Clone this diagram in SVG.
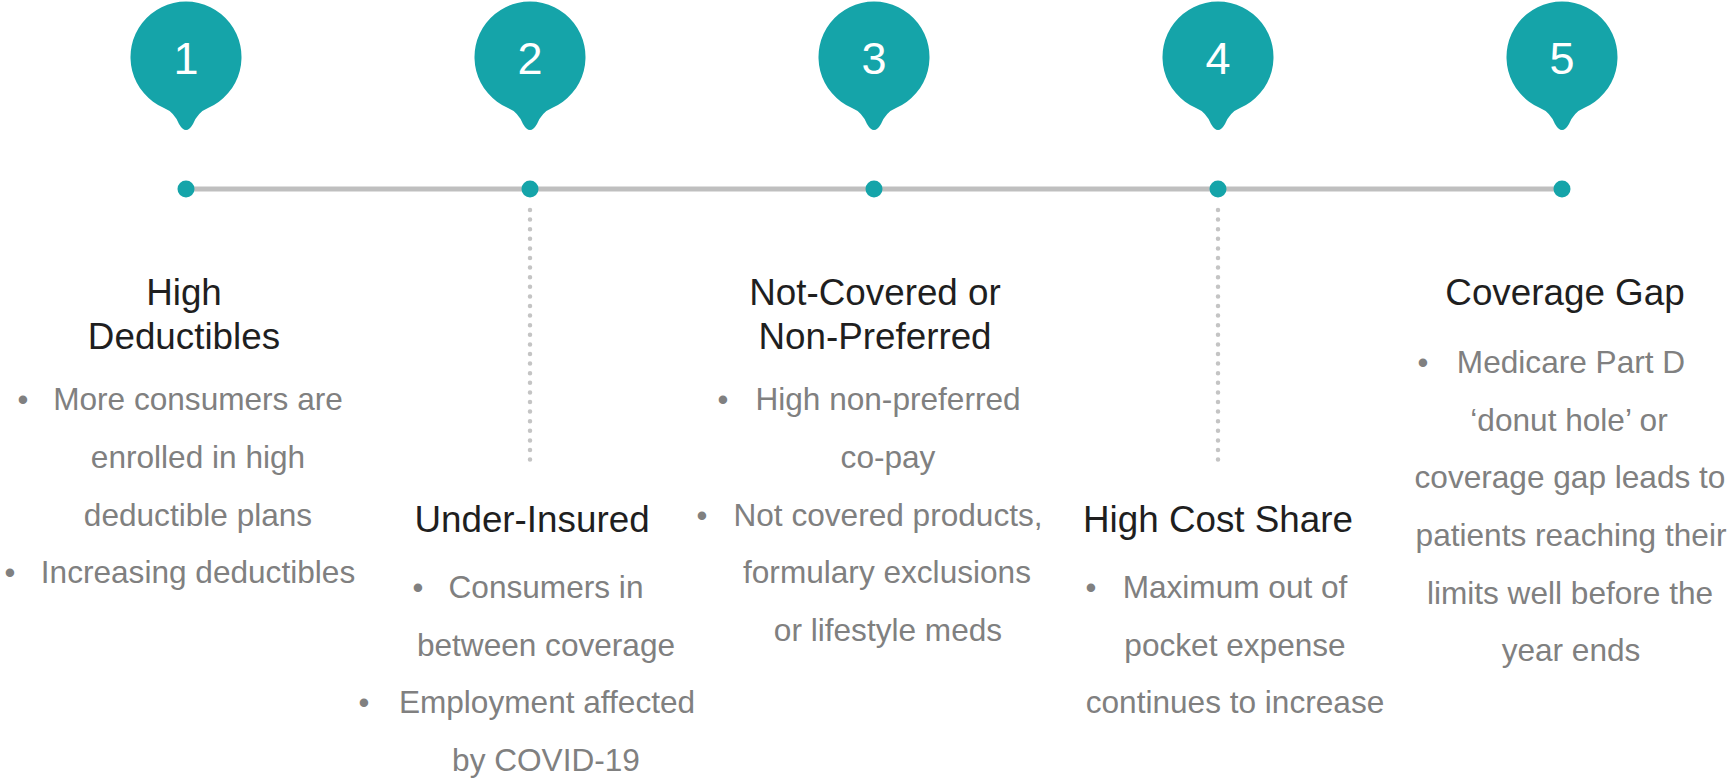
<svg xmlns="http://www.w3.org/2000/svg" width="1731" height="779" viewBox="0 0 1731 779">
<style>
.pin{fill:#15A4A9}
.num{font-family:"Liberation Sans",Arial,sans-serif;font-size:45px;fill:#FFFFFF;text-anchor:middle}
.dot{fill:#15A4A9}
.title{font-family:"Liberation Sans",Arial,sans-serif;font-size:36.8px;fill:#1F1F1F;text-anchor:middle}
.body{font-family:"Liberation Sans",Arial,sans-serif;font-size:31.6px;fill:#808080;text-anchor:middle}
.bul{font-family:"Liberation Sans",Arial,sans-serif;font-size:31px;fill:#808080;text-anchor:middle}
.axis{stroke:#BFBFBF;stroke-width:5;fill:none}
.dotted{stroke:#C4C4C4;stroke-width:4.5;stroke-linecap:round;stroke-dasharray:0 9.6;fill:none}
</style>
<defs>
<path id="pinshape" d="M -22,108 Q -12,112 -7,124 Q 0,136 7,124 Q 12,112 22,108 A 55.5 55.5 0 1 0 -22,108 Z"/>
</defs>
<g id="connectors">
<line class="axis" x1="186" y1="189" x2="1562" y2="189"/>
<line class="dotted" x1="530" y1="210" x2="530" y2="463"/>
<line class="dotted" x1="1218" y1="210" x2="1218" y2="463"/>
</g>
<g id="node1">
<use href="#pinshape" class="pin" transform="translate(186,0)"/>
<text class="num" x="186" y="74">1</text>
<circle class="dot" cx="186" cy="189" r="8.5"/>
<text class="title" x="184" y="305">High</text>
<text class="title" x="184" y="349">Deductibles</text>
<text class="bul" x="23" y="410">•</text>
<text class="body" x="198" y="410">More consumers are</text>
<text class="body" x="198" y="468">enrolled in high</text>
<text class="body" x="198" y="526">deductible plans</text>
<text class="bul" x="10" y="583">•</text>
<text class="body" x="198" y="583">Increasing deductibles</text>
</g>
<g id="node2">
<use href="#pinshape" class="pin" transform="translate(530,0)"/>
<text class="num" x="530" y="74">2</text>
<circle class="dot" cx="530" cy="189" r="8.5"/>
<text class="title" x="532" y="532">Under-Insured</text>
<text class="bul" x="418" y="598">•</text>
<text class="body" x="546" y="598">Consumers in</text>
<text class="body" x="546" y="656">between coverage</text>
<text class="bul" x="364" y="713">•</text>
<text class="body" x="547" y="713">Employment affected</text>
<text class="body" x="546" y="771">by COVID-19</text>
</g>
<g id="node3">
<use href="#pinshape" class="pin" transform="translate(874,0)"/>
<text class="num" x="874" y="74">3</text>
<circle class="dot" cx="874" cy="189" r="8.5"/>
<text class="title" x="875" y="305">Not-Covered or</text>
<text class="title" x="875" y="349">Non-Preferred</text>
<text class="bul" x="723" y="410">•</text>
<text class="body" x="888" y="410">High non-preferred</text>
<text class="body" x="888" y="468">co-pay</text>
<text class="bul" x="702" y="526">•</text>
<text class="body" x="888" y="526">Not covered products,</text>
<text class="body" x="887" y="583">formulary exclusions</text>
<text class="body" x="888" y="641">or lifestyle meds</text>
</g>
<g id="node4">
<use href="#pinshape" class="pin" transform="translate(1218,0)"/>
<text class="num" x="1218" y="74">4</text>
<circle class="dot" cx="1218" cy="189" r="8.5"/>
<text class="title" x="1218" y="532">High Cost Share</text>
<text class="bul" x="1091" y="598">•</text>
<text class="body" x="1235" y="598">Maximum out of</text>
<text class="body" x="1235" y="656">pocket expense</text>
<text class="body" x="1235" y="713">continues to increase</text>
</g>
<g id="node5">
<use href="#pinshape" class="pin" transform="translate(1562,0)"/>
<text class="num" x="1562" y="74">5</text>
<circle class="dot" cx="1562" cy="189" r="8.5"/>
<text class="title" x="1565" y="305">Coverage Gap</text>
<text class="bul" x="1423" y="373">•</text>
<text class="body" x="1571" y="373">Medicare Part D</text>
<text class="body" x="1569" y="431">‘donut hole’ or</text>
<text class="body" x="1570" y="488">coverage gap leads to</text>
<text class="body" x="1571" y="546">patients reaching their</text>
<text class="body" x="1570" y="604">limits well before the</text>
<text class="body" x="1571" y="661">year ends</text>
</g>
</svg>
